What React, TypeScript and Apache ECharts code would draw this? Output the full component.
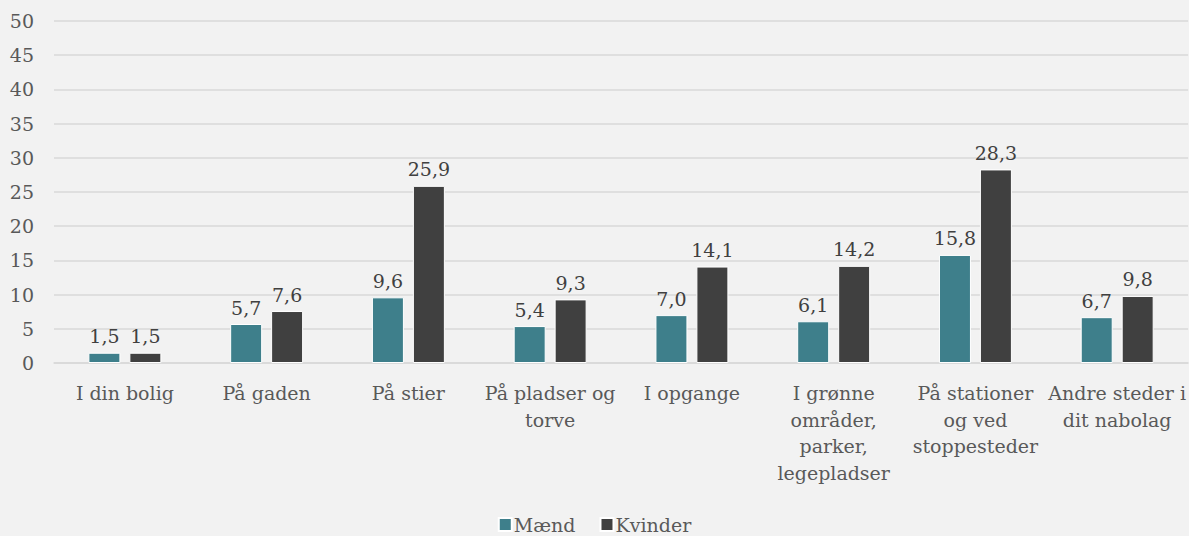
import React, { useEffect, useRef } from "react";
import * as echarts from "echarts";

const categories = [
  "I din bolig",
  "På gaden",
  "På stier",
  "På pladser og\ntorve",
  "I opgange",
  "I grønne\nområder,\nparker,\nlegepladser",
  "På stationer\nog ved\nstoppesteder",
  "Andre steder i\ndit nabolag",
];
const maend = [1.5, 5.7, 9.6, 5.4, 7.0, 6.1, 15.8, 6.7];
const kvinder = [1.5, 7.6, 25.9, 9.3, 14.1, 14.2, 28.3, 9.8];
const seriesNames = ["Mænd", "Kvinder"];

const FONT = "DejaVu Serif";
const FS = 19;
const TXT = "#595959";

export default function App() {
  const ref = useRef<HTMLDivElement>(null);
  useEffect(() => {
    if (!ref.current) return;
    const chart = echarts.init(ref.current, null, { renderer: "svg" });
    const label = {
      show: true,
      position: "top" as const,
      distance: 7,
      fontFamily: FONT,
      fontSize: FS,
      color: "#404040",
      formatter: (p: any) => Number(p.value).toFixed(1).replace(".", ","),
    };
    chart.setOption({
      animation: false,
      backgroundColor: "#f2f2f2",
      textStyle: { fontFamily: FONT },
      grid: { left: 54, right: 0, top: 21, bottom: 173, containLabel: false },
      legend: {
        bottom: -3,
        left: "center",
        itemWidth: 13,
        itemHeight: 13,
        itemGap: 24,
        icon: "rect",
        textStyle: { fontFamily: FONT, fontSize: FS, color: TXT, padding: [0, 0, 0, -3] },
        data: seriesNames,
      },
      xAxis: {
        type: "category",
        data: categories,
        axisLine: { show: true, lineStyle: { color: "#d9d9d9", width: 1.5 } },
        axisTick: { show: false },
        axisLabel: {
          interval: 0,
          fontFamily: FONT,
          fontSize: FS,
          color: TXT,
          lineHeight: 26.5,
          margin: 17,
        },
      },
      yAxis: {
        type: "value",
        min: 0,
        max: 50,
        interval: 5,
        axisLine: { show: false },
        axisTick: { show: false },
        splitLine: { lineStyle: { color: "#d9d9d9", width: 1.5 } },
        axisLabel: { fontFamily: FONT, fontSize: FS, color: TXT, margin: 20 },
      },
      series: [
        {
          name: seriesNames[0],
          type: "bar",
          data: maend,
          barWidth: 32,
          barGap: "28%",
          itemStyle: { color: "#3e7f8b", borderColor: "#ffffff", borderWidth: 1 },
          label,
        },
        {
          name: seriesNames[1],
          type: "bar",
          data: kvinder,
          barWidth: 32,
          itemStyle: { color: "#404040", borderColor: "#ffffff", borderWidth: 1 },
          label,
        },
      ],
    });
    return () => chart.dispose();
  }, []);
  return (
    <div
      ref={ref}
      style={{ position: "fixed", left: 0, top: 0, width: 1189, height: 536 }}
    />
  );
}
